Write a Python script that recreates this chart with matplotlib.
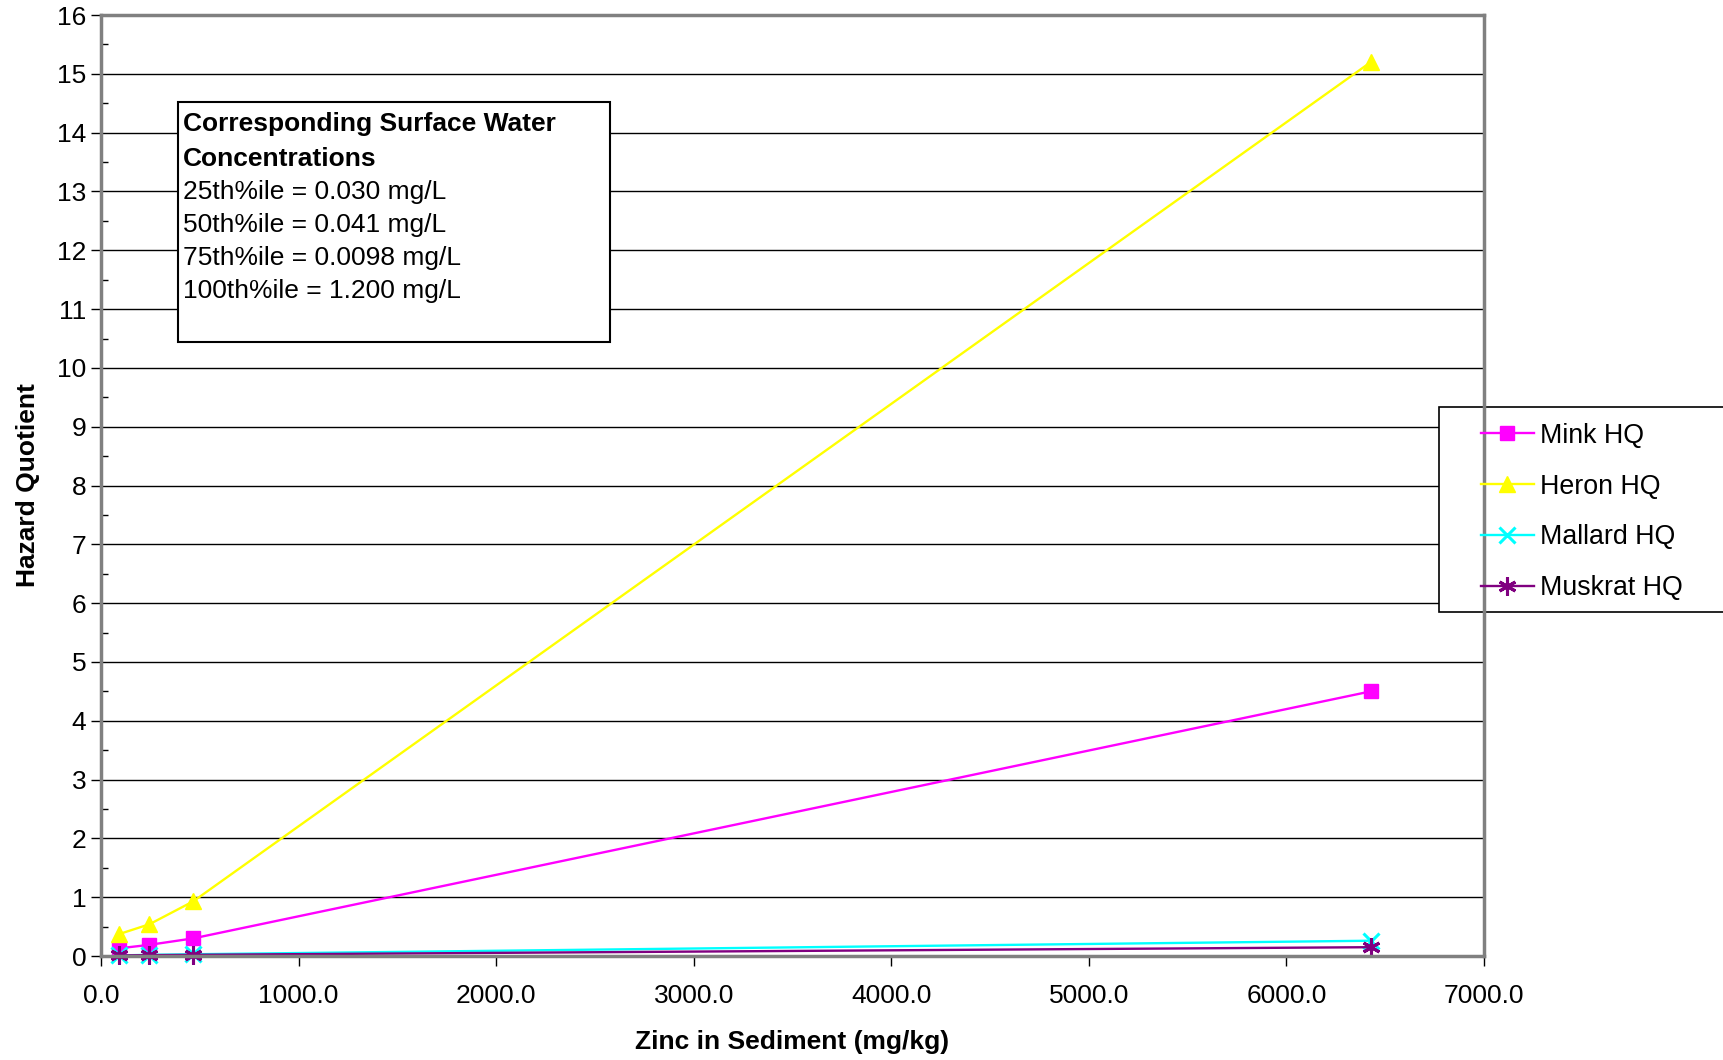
import numpy as np
import matplotlib.pyplot as plt
from matplotlib.patches import Rectangle
from matplotlib.ticker import MultipleLocator, FormatStrFormatter

plt.rcParams['font.family'] = ['Liberation Sans', 'DejaVu Sans']

# zinc concentration in sediment (mg/kg) and hazard quotients per receptor
zinc = [89, 245, 467, 6427]
mink_hq = [0.13, 0.19, 0.30, 4.50]
heron_hq = [0.37, 0.54, 0.93, 15.20]
mallard_hq = [0.01, 0.02, 0.03, 0.26]
muskrat_hq = [0.01, 0.015, 0.02, 0.15]

series = [
    ('Mink HQ', mink_hq, '#FF00FF', 's', 10),
    ('Heron HQ', heron_hq, '#FFFF00', '^', 11),
    ('Mallard HQ', mallard_hq, '#00FFFF', 'x', 11),
    ('Muskrat HQ', muskrat_hq, '#800080', (6, 2, 0), 13),
]

box_lines = [
    ('Corresponding Surface Water', 'bold'),
    ('Concentrations', 'bold'),
    ('25th%ile = 0.030 mg/L', 'normal'),
    ('50th%ile = 0.041 mg/L', 'normal'),
    ('75th%ile = 0.0098 mg/L', 'normal'),
    ('100th%ile = 1.200 mg/L', 'normal'),
]

fig = plt.figure(figsize=(17.24, 10.60), dpi=100)
ax = fig.add_axes([0.0586, 0.0981, 0.8022, 0.8877])

handles = []
for name, vals, color, marker, ms in series:
    filled = marker in ('s', '^')
    h, = ax.plot(zinc, vals, color=color, lw=1.7, marker=marker, markersize=ms,
                 markeredgewidth=1 if filled else 2.2,
                 label=name, clip_on=False, zorder=3)
    handles.append(h)

ax.set_xlim(0, 7000)
ax.set_ylim(0, 16)
ax.xaxis.set_major_locator(MultipleLocator(1000))
ax.xaxis.set_major_formatter(FormatStrFormatter('%.1f'))
ax.yaxis.set_major_locator(MultipleLocator(1))
ax.yaxis.set_minor_locator(MultipleLocator(0.5))
ax.tick_params(axis='both', labelsize=19, color='black')
ax.tick_params(axis='y', which='major', direction='out', length=7, width=1)
ax.tick_params(axis='y', which='minor', direction='in', length=5, width=1)
ax.tick_params(axis='x', which='major', direction='out', length=7, width=1, pad=13)
ax.grid(axis='y', which='major', color='black', lw=1)

for sp in ax.spines.values():
    sp.set_color('#808080')
    sp.set_linewidth(2.5)
    sp.set_zorder(4)

ax.set_xlabel('Zinc in Sediment (mg/kg)', fontsize=19, fontweight='bold', labelpad=16)
ax.set_ylabel('Hazard Quotient', fontsize=19, fontweight='bold', labelpad=12)

# annotation box with surface water concentrations
ax.add_patch(Rectangle((0.0557, 0.6525), 0.3125, 0.255, transform=ax.transAxes,
                       facecolor='white', edgecolor='black', lw=1.5, zorder=3))
line_y = [0.8840, 0.8472, 0.8122, 0.7772, 0.7422, 0.7072]
for (line, weight), y in zip(box_lines, line_y):
    ax.text(0.0593, y, line, transform=ax.transAxes,
            fontsize=19, fontweight=weight, va='center', ha='left', zorder=4)

# legend frame sits behind the right spine and runs off the figure edge
ax.add_patch(Rectangle((1439 / 1724, 1 - 612 / 1060), 0.2, 205 / 1060,
                       transform=fig.transFigure, facecolor='white',
                       edgecolor='black', lw=1.2, clip_on=False, zorder=3))
leg = ax.legend(handles=handles, loc='center left',
                bbox_to_anchor=(1484 / 1724 - 0.002, 1 - 512 / 1060),
                bbox_transform=fig.transFigure, frameon=False, fontsize=19.3,
                handlelength=2.0, handletextpad=0.2, labelspacing=0.93,
                borderpad=0, borderaxespad=0)
leg.set_zorder(5)

fig.savefig('out.png', dpi=100)
